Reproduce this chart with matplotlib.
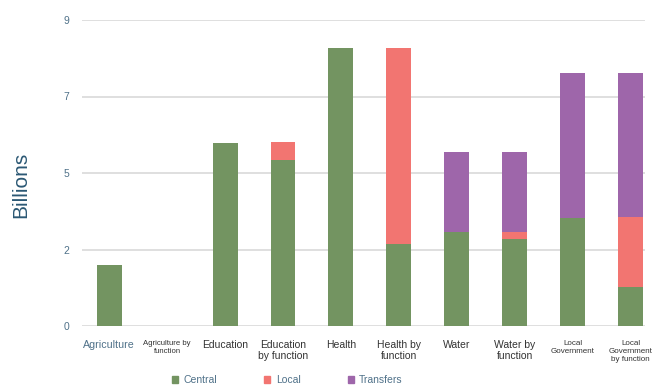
import numpy as np
import matplotlib.pyplot as plt
from matplotlib.patches import Patch

plt.rcParams['font.family'] = ['Liberation Sans', 'DejaVu Sans']

# spending by category, in billions
categories = ['Agriculture', 'Agriculture by\nfunction', 'Education', 'Education\nby function',
              'Health', 'Health by\nfunction', 'Water', 'Water by\nfunction',
              'Local\nGovernment', 'Local\nGovernment\nby function']
central = [1.79, 0, 5.38, 4.88, 8.18, 2.41, 2.77, 2.56, 3.19, 1.15]
local = [0, 0, 0, 0.53, 0, 5.77, 0, 0.21, 0, 2.06]
transfers = [0, 0, 0, 0, 0, 0, 2.35, 2.35, 4.25, 4.23]

label_sizes = [7.7, 5.6, 7.5, 7.5, 7.5, 7.5, 7.5, 7.5, 5.8, 5.8]

c_green = '#739461'
c_red = '#f27571'
c_purple = '#9e66aa'
axis_blue = '#4f7189'

fig = plt.figure(figsize=(6.53, 3.85), dpi=100)
ax = fig.add_axes([82/653, 59/385, 563/653, 306/385])

x = np.arange(len(categories))
w = 0.43
central = np.array(central)
local = np.array(local)
transfers = np.array(transfers)
ax.bar(x, central, w, color=c_green, zorder=3)
ax.bar(x, local, w, bottom=central, color=c_red, zorder=3)
ax.bar(x, transfers, w, bottom=central + local, color=c_purple, zorder=3)

ax.set_ylim(0, 9)
ax.set_xlim(-0.47, 9.25)
ticks = [0, 2.25, 4.5, 6.75, 9]
ax.set_yticks(ticks)
ax.set_yticklabels(['0', '2', '5', '7', '9'], fontsize=7.5, color=axis_blue)
ax.yaxis.grid(True, color='#d9d9d9', linewidth=1.2, zorder=0)
ax.tick_params(axis='y', length=0, pad=9)
ax.tick_params(axis='x', length=0, pad=10)
for s in ax.spines.values():
    s.set_visible(False)

ax.set_xticks(x)
ax.set_xticklabels(categories, linespacing=1.2)
for i, t in enumerate(ax.get_xticklabels()):
    t.set_fontsize(label_sizes[i])
    t.set_color(axis_blue if i == 0 else '#333333')

fig.text(0.032, 0.52, 'Billions', rotation=90, fontsize=15, color='#2b5874',
         ha='center', va='center')

handles = [Patch(color=c_green, label='Central'),
           Patch(color=c_red, label='Local'),
           Patch(color=c_purple, label='Transfers')]
leg = fig.legend(handles=handles, loc='center', bbox_to_anchor=(0.44, 0.013), ncol=3,
                 frameon=False, fontsize=7.5, handlelength=0.6, handleheight=0.6,
                 handletextpad=0.5, columnspacing=4.55)
for t in leg.get_texts():
    t.set_color(axis_blue)

fig.savefig('out.png', dpi=100)
